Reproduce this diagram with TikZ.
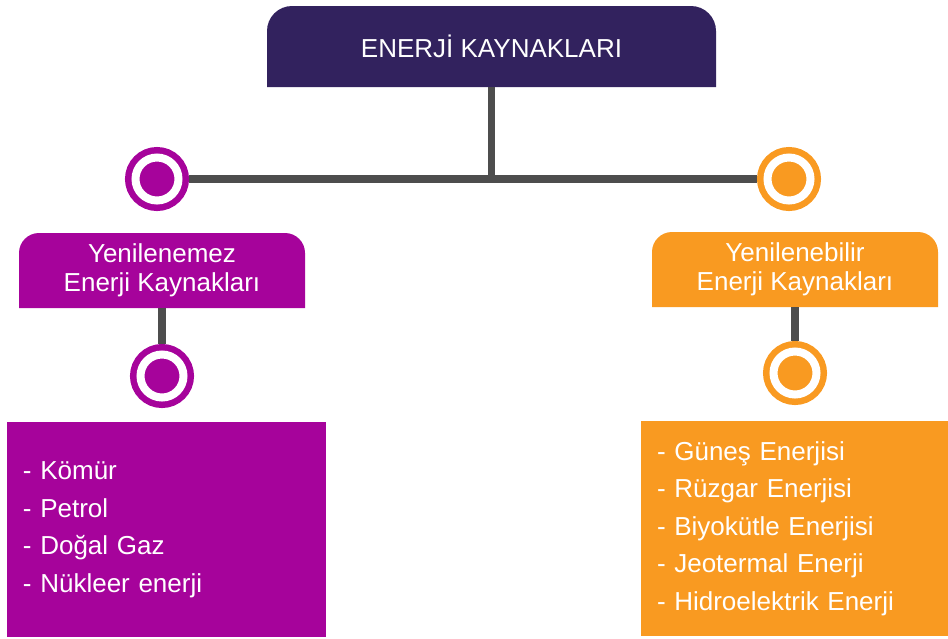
\documentclass[tikz,border=0pt]{standalone}
\usepackage{fontspec}
\setmainfont{Liberation Sans}
\usetikzlibrary{backgrounds}

\definecolor{darkpurple}{HTML}{32225E}
\definecolor{plum}{HTML}{A6039B}
\definecolor{amber}{HTML}{F99A21}
\definecolor{linegray}{HTML}{4D4D4D}

\tikzset{
    headbox/.style={text=white, align=center, inner sep=0pt, outer sep=0pt,
        font=\fontsize{26pt}{29pt}\selectfont},
    listbox/.style={fill=#1, text=white, align=left, inner xsep=16pt, inner ysep=0pt,
        outer sep=0pt, font=\fontsize{26pt}{37.5pt}\selectfont},
    ring/.style={circle, fill=#1, draw=#1, line width=6.5pt, double=white,
        double distance=8pt, minimum size=43pt, inner sep=0pt, outer sep=10.5pt},
    link/.style={draw=linegray, line width=7.5pt}
}

\begin{document}
\begin{tikzpicture}[x=1pt, y=-1pt]
    \useasboundingbox (0,0) rectangle (948,638);

    % boxes
    \node[headbox, minimum width=449pt, minimum height=81pt] (title) at (491.5,46.5) {ENERJİ KAYNAKLARI};
    \node[headbox, minimum width=286pt, minimum height=75pt] (fossil) at (162,270.5) {Yenilenemez\\Enerji Kaynakları};
    \node[headbox, minimum width=286pt, minimum height=75pt] (renew) at (795,269.5) {Yenilenebilir\\Enerji Kaynakları};

    % tab shapes, round on top only
    \begin{scope}[on background layer]
    \foreach \n/\c/\r in {title/darkpurple/25, fossil/plum/20, renew/amber/20} {
        \fill[\c] (\n.south west) -- ([yshift=-\r pt]\n.north west)
            arc[start angle=180, end angle=90, radius=\r pt] -- ([xshift=-\r pt]\n.north east)
            arc[start angle=90, end angle=0, radius=\r pt] -- (\n.south east) -- cycle;
    }
    \end{scope}

    \node[listbox=plum, minimum width=319pt, minimum height=215pt, text width=287pt] (fossilList) at (166.5,529.5)
        {- Kömür\\- Petrol\\- Doğal Gaz\\- Nükleer enerji};
    \node[listbox=amber, minimum width=307pt, minimum height=215pt, text width=275pt] (renewList) at (794.5,528.5)
        {- Güneş Enerjisi\\- Rüzgar Enerjisi\\- Biyokütle Enerjisi\\- Jeotermal Enerji\\- Hidroelektrik Enerji};

    % rings
    \node[ring=plum] (fossilTop) at (157,179) {};
    \node[ring=amber] (renewTop) at (789,179) {};
    \node[ring=plum] (fossilDot) at (162,376) {};
    \node[ring=amber] (renewDot) at (795,373) {};

    % connectors
    \coordinate (hub) at (title.south |- fossilTop.east);
    \draw[link] (fossilTop.east) -- (renewTop.west);
    \draw[link, shorten >=-3.75pt] (title.south) -- (hub);
    \draw[link] (fossil.south) -- (fossilDot.north);
    \draw[link] (renew.south) -- (renewDot.north);
\end{tikzpicture}
\end{document}
